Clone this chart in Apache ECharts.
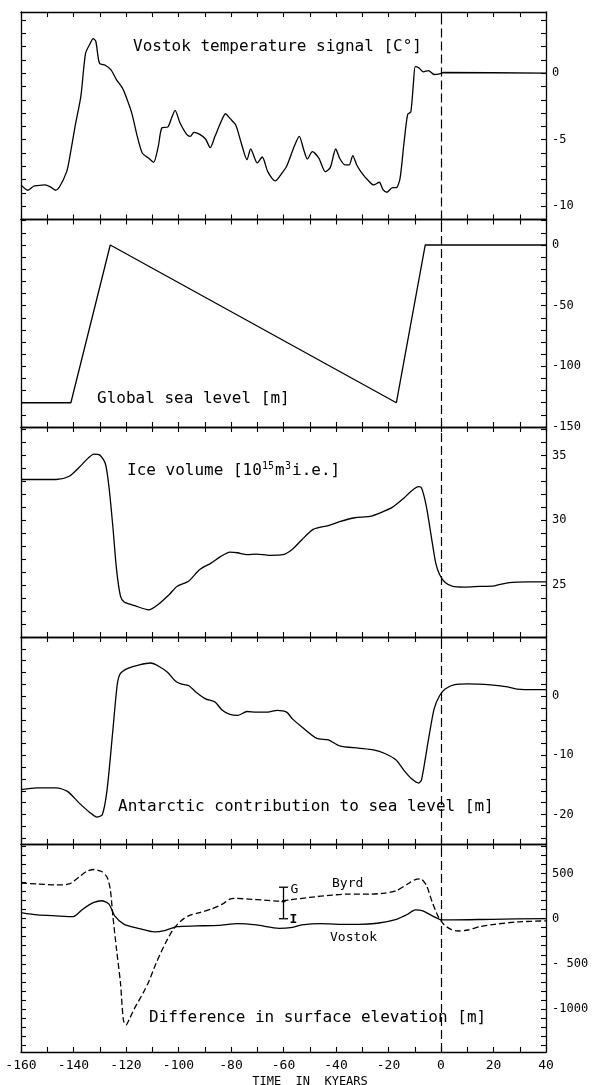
<!DOCTYPE html>
<html><head><meta charset="utf-8">
<script src="https://cdn.jsdelivr.net/npm/echarts@6/dist/echarts.min.js"></script>
<style>html,body{margin:0;padding:0;background:#fff}#c{width:592px;height:1085px}</style>
</head><body><div id="c"></div>
<script>
// ---------- DATA ----------
// Panel 1: Vostok temperature signal [C°]
const tempTime = [-160,-157.4,-155.2,-153.8,-150.9,-148.8,-146.9,-145.2,-142.6,-141.6,
  -139.4,-137.2,-135.4,-133.6,-132.5,-131.5,-130.1,-127.9,-125.7,-123.6,
  -121.4,-120,-117.8,-115.7,-113.8,-111.3,-109.5,-107.7,-106.3,-104.1,
  -102.7,-101.3,-99.4,-96.9,-95.5,-94.1,-91.9,-89.7,-87.9,-86.1,
  -84.0,-82.1,-80.4,-78.2,-76.1,-73.9,-72.5,-70.0,-68.1,-66.0,
  -63.1,-60.9,-58.8,-55.9,-54.0,-52.3,-50.9,-49.0,-46.5,-44.1,
  -42.2,-40.1,-38.6,-36.5,-35.0,-33.6,-32.1,-30.0,-27.8,-25.7,
  -23.5,-22.1,-20.6,-18.5,-17.0,-15.6,-14.1,-12.7,-11.5,-10.5,
  -9.8,-8.4,-6.7,-4.8,-2.6,-0.5,1.0,40];
const tempValue = [-8.4,-8.8,-8.5,-8.45,-8.4,-8.55,-8.8,-8.5,-7.4,-6.5,
  -4.0,-1.75,1.5,2.25,2.6,2.4,0.75,0.6,0.25,-0.5,
  -1.1,-1.75,-3.0,-4.75,-6.0,-6.4,-6.7,-5.5,-4.1,-4.05,
  -3.4,-2.8,-3.75,-4.6,-4.75,-4.45,-4.6,-4.95,-5.6,-4.75,
  -3.75,-3.05,-3.4,-3.9,-5.25,-6.5,-5.7,-6.75,-6.3,-7.4,
  -8.1,-7.6,-7.0,-5.5,-4.75,-5.75,-6.45,-5.9,-6.4,-7.4,
  -7.1,-5.7,-6.4,-6.9,-6.9,-6.2,-6.9,-7.55,-8.05,-8.4,
  -8.2,-8.75,-8.95,-8.6,-8.6,-7.9,-5.25,-3.1,-2.9,-0.75,
  0.5,0.4,0.1,0.2,-0.1,-0.05,0.05,0];

// Panel 2: Global sea level [m]
const seaTime = [-160,-141,-126,-17,-6,40];
const seaValue = [-130,-130,0,-130,0,0];

// Panel 3: Ice volume [10^15 m^3 i.e.]
const iceTime = [-160,-146.6,-141.6,-138.0,-134.4,-132.2,-130.1,-127.9,-126.5,-125.0,
  -123.6,-122.1,-120.7,-116.4,-111.4,-107.8,-103.4,-100.6,-96.2,-91.9,
  -87.6,-84.0,-80.4,-77.5,-73.9,-70.3,-65.3,-60.2,-56.7,-53.0,
  -48.7,-42.9,-38.6,-32.9,-27.1,-22.9,-18.6,-14.2,-11.4,-8.5,
  -7.4,-5.6,-3.5,-2.0,-0.5,1.6,4.5,8.8,14.5,20.3,
  26.0,33.2,40];
const iceValue = [33.15,33.15,33.4,34.05,34.8,35.1,35.05,34.4,32.6,29.5,
  26.2,24.15,23.7,23.4,23.1,23.5,24.3,24.9,25.3,26.2,
  26.7,27.2,27.55,27.5,27.35,27.4,27.3,27.35,27.75,28.5,
  29.3,29.6,29.9,30.2,30.3,30.6,31.0,31.7,32.25,32.6,
  32.5,31.1,28.5,26.7,25.8,25.2,24.9,24.85,24.9,24.95,
  25.2,25.25,25.25];

// Panel 4: Antarctic contribution to sea level [m]
const antTime = [-160,-153.8,-146.6,-142.3,-138.0,-133.7,-131.1,-129.0,-127.2,-125.0,
  -123.3,-122.1,-119.3,-114.9,-110.6,-107.7,-104.1,-101.3,-99.1,-96.2,
  -93.3,-89.7,-86.1,-83.3,-80.4,-77.5,-73.9,-70.3,-66.0,-62.4,
  -58.8,-56.7,-53.0,-47.3,-42.9,-38.6,-31.4,-25.7,-21.4,-17.1,
  -14.2,-11.4,-8.5,-7.4,-4.8,-2.6,-0.5,1.6,5.2,10.3,
  18.9,24.7,29.0,36.2,40];
const antValue = [-15.8,-15.5,-15.5,-16.1,-18.0,-19.7,-20.45,-20.0,-15.8,-5.75,
  2.07,3.85,4.7,5.3,5.6,5.1,4.0,2.6,2.07,1.8,
  0.67,-0.45,-1.0,-2.4,-3.1,-3.25,-2.6,-2.7,-2.7,-2.4,
  -2.7,-3.8,-5.2,-7.15,-7.4,-8.4,-8.8,-9.1,-9.7,-10.8,
  -12.5,-13.9,-14.7,-14.1,-7.4,-2.1,0.1,1.2,1.95,2.07,
  1.9,1.6,1.2,1.1,1.1];

// Panel 5: Difference in surface elevation [m]
const vostokTime = [-160,-153.8,-146.6,-140.1,-136.5,-132.2,-129.3,-126.5,-124.3,-120.7,
  -114.9,-109.2,-104.9,-100.6,-93.3,-84.7,-77.5,-70.3,-61.7,-57.3,
  -53.0,-45.8,-38.6,-31.4,-24.2,-17.0,-12.7,-9.8,-6.9,-3.3,
  0.3,4.6,19,40];
const vostokValue = [69,43,32,24,106,181,200,162,32,-62,
  -110,-147,-129,-88,-80,-73,-54,-69,-106,-99,
  -69,-54,-62,-62,-50,-6,50,99,88,32,
  -13,-13,-6,2];
const byrdTime = [-160,-153.8,-146.6,-141.6,-138.0,-135.1,-132.2,-129.3,-127.2,-126.0,
  -125.0,-123.6,-122.1,-121.0,-120,-118.6,-116.4,-113.5,-111.3,-108.5,
  -104.9,-102.0,-99.1,-96.2,-91.9,-87.6,-83.3,-80.4,-78.2,-73.2,
  -67.4,-61.7,-57.3,-50.1,-41.5,-35.7,-27.1,-21.3,-17.0,-12.7,
  -9.8,-7.7,-5.5,-3.3,-1.2,1.0,3.8,6.7,10.3,14.7,
  20.4,29.1,40];
const byrdValue = [397,386,375,386,461,524,547,524,461,330,
  32,-342,-715,-1125,-1181,-1106,-976,-826,-696,-491,
  -267,-118,-24,32,69,106,162,218,226,218,
  207,196,211,237,263,274,274,285,312,386,
  435,442,367,181,32,-62,-118,-136,-125,-88,
  -62,-35,-24];
// G–I bar
const barTime = [-60];
const barLow = [0];
const barHigh = [350];
const barMid = [190];

// Tick labels
const xLabels = [-160,-140,-120,-100,-80,-60,-40,-20,0,20,40];
const tempLabels = [-10,-5,0];
const seaLabels = [-150,-100,-50,0];
const iceLabels = [25,30,35];
const antLabels = [-20,-10,0];
const elevLabels = [-1000,-500,0,500];

// ---------- CHART ----------
const MONO = 'DejaVu Sans Mono';
function range(a,b,s){const r=[];for(let v=a;v<=b+1e-9;v+=s)r.push(Math.round(v*1000)/1000);return r;}
function zip(xs,ys){return xs.map((x,i)=>[x,ys[i]]);}

const panels = [
  {top:12, bottom:219.5, min:-11, max:4.6, ticks:range(-11,4,1), labels:tempLabels},
  {top:219.5, bottom:427, min:-150, max:21, ticks:range(-150,20,10), labels:seaLabels},
  {top:427, bottom:637, min:21, max:37.2, ticks:range(21,37,1), labels:iceLabels},
  {top:637, bottom:844, min:-25, max:10, ticks:range(-24,10,2), labels:antLabels},
  {top:844, bottom:1052, min:-1480, max:830, ticks:range(-1400,800,100), labels:elevLabels,
    fmt: v => (v === -500 ? '- 500' : String(v))}
];

const xAxis = [], yAxis = [], grid = [];
panels.forEach((p,i) => {
  grid.push({left:21, width:525, top:p.top, height:p.bottom-p.top, outerBoundsMode:'none'});
  ['bottom','top'].forEach(pos => {
    xAxis.push({gridIndex:i, type:'value', position:pos, min:-160, max:40, interval:10,
      axisLine:{onZero:false, lineStyle:{color:'#000', width:1.3}},
      axisTick:{inside:true, length:5, lineStyle:{color:'#000', width:1.1}},
      axisLabel:{show: i===4 && pos==='bottom', margin:7, color:'#000', fontFamily:MONO, fontSize:13,
        customValues: xLabels, formatter: v => String(v)},
      splitLine:{show:false}});
  });
  ['right','left'].forEach(pos => {
    yAxis.push({gridIndex:i, type:'value', position:pos, min:p.min, max:p.max,
      axisLine:{show:true, onZero:false, lineStyle:{color:'#000', width:1.3}},
      axisTick:{show:true, inside:true, length:5, customValues:p.ticks, lineStyle:{color:'#000', width:1.1}},
      axisLabel:{show: pos==='right', customValues:p.labels, margin:6, color:'#000', fontFamily:MONO, fontSize:12,
        formatter: p.fmt || (v => String(v))},
      splitLine:{show:false}});
  });
});

const zeroLine = {silent:true, symbol:['none','none'], label:{show:false},
  lineStyle:{type:[9,4], color:'#000', width:1.2}, data:[{xAxis:0}]};
function lineSeries(i, data, opts) {
  return Object.assign({type:'line', xAxisIndex:2*i, yAxisIndex:2*i, data, showSymbol:false, symbol:'none',
    smooth:0.25, lineStyle:{color:'#000', width:1.3}, markLine: zeroLine, z:3}, opts||{});
}

const series = [
  lineSeries(0, zip(tempTime, tempValue)),
  lineSeries(1, zip(seaTime, seaValue), {smooth:false}),
  lineSeries(2, zip(iceTime, iceValue)),
  lineSeries(3, zip(antTime, antValue)),
  lineSeries(4, zip(vostokTime, vostokValue)),
  lineSeries(4, zip(byrdTime, byrdValue), {lineStyle:{color:'#000', width:1.3, type:[6,3]}, markLine:undefined}),
  {type:'custom', xAxisIndex:8, yAxisIndex:8, z:4,
    data: barTime.map((t,k)=>[t, barLow[k], barHigh[k], barMid[k]]),
    renderItem: (params, api) => {
      const x = api.value(0);
      const lo = api.coord([x, api.value(1)]);
      const hi = api.coord([x, api.value(2)]);
      const md = api.coord([x, api.value(3)]);
      const st = {stroke:'#000', lineWidth:1.3};
      const c = 4.5;
      return {type:'group', children:[
        {type:'line', shape:{x1:lo[0],y1:lo[1],x2:hi[0],y2:hi[1]}, style:st},
        {type:'line', shape:{x1:hi[0]-c,y1:hi[1],x2:hi[0]+c,y2:hi[1]}, style:st},
        {type:'line', shape:{x1:lo[0]-c,y1:lo[1],x2:lo[0]+c,y2:lo[1]}, style:st},
        {type:'line', shape:{x1:md[0]-2,y1:md[1],x2:md[0]+2,y2:md[1]}, style:st},
        {type:'text', style:{text:'G', x:hi[0]+7, y:hi[1]+2, font:'13px '+MONO, fill:'#000', verticalAlign:'middle'}},
        {type:'text', style:{text:'I', x:lo[0]+6, y:lo[1]+1, font:'bold 13px '+MONO, fill:'#000', verticalAlign:'middle'}}
      ]};
    }}
];

function txt(s, x, y, size, extra) {
  return Object.assign({type:'text', x, y, silent:true,
    style:{text:s, font: size+'px '+MONO, fill:'#000', verticalAlign:'middle', align:'left'}}, extra||{});
}
const graphic = [
  txt('Vostok temperature signal [C°]', 133, 47, 16),
  txt('Global sea level [m]', 97, 399, 16),
  txt('Ice volume [10', 127, 471, 16),
  txt('15', 262, 466, 10),
  txt('m', 275, 471, 16),
  txt('3', 285, 466, 10),
  txt('i.e.]', 292, 471, 16),
  txt('Antarctic contribution to sea level [m]', 118, 807, 16),
  txt('Difference in surface elevation [m]', 149, 1018, 16),
  txt('Byrd', 332, 884, 13),
  txt('Vostok', 330, 938, 13),
  {type:'text', x:310, y:1082, silent:true,
    style:{text:'TIME  IN  KYEARS', font:'12px '+MONO, fill:'#000', align:'center', verticalAlign:'middle'}}
];

const chart = echarts.init(document.getElementById('c'), null, {renderer:'canvas'});
chart.setOption({animation:false, backgroundColor:'#fff', grid, xAxis, yAxis, series, graphic});
</script></body></html>
